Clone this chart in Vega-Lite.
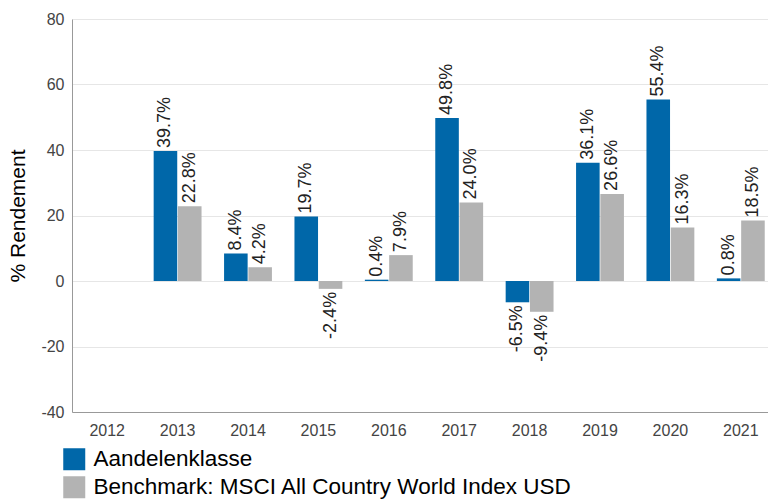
{
  "$schema": "https://vega.github.io/schema/vega-lite/v6.json",
  "autosize": "none",
  "width": 696,
  "height": 393,
  "padding": {"left": 72, "top": 19, "right": 0, "bottom": 88},
  "background": "white",
  "config": {
    "font": "Liberation Sans",
    "view": {"stroke": null}
  },
  "data": {
    "values": [
      {"jaar": "2013", "reeks": "Aandelenklasse", "waarde": 39.7},
      {"jaar": "2013", "reeks": "Benchmark: MSCI All Country World Index USD", "waarde": 22.8},
      {"jaar": "2014", "reeks": "Aandelenklasse", "waarde": 8.4},
      {"jaar": "2014", "reeks": "Benchmark: MSCI All Country World Index USD", "waarde": 4.2},
      {"jaar": "2015", "reeks": "Aandelenklasse", "waarde": 19.7},
      {"jaar": "2015", "reeks": "Benchmark: MSCI All Country World Index USD", "waarde": -2.4},
      {"jaar": "2016", "reeks": "Aandelenklasse", "waarde": 0.4},
      {"jaar": "2016", "reeks": "Benchmark: MSCI All Country World Index USD", "waarde": 7.9},
      {"jaar": "2017", "reeks": "Aandelenklasse", "waarde": 49.8},
      {"jaar": "2017", "reeks": "Benchmark: MSCI All Country World Index USD", "waarde": 24.0},
      {"jaar": "2018", "reeks": "Aandelenklasse", "waarde": -6.5},
      {"jaar": "2018", "reeks": "Benchmark: MSCI All Country World Index USD", "waarde": -9.4},
      {"jaar": "2019", "reeks": "Aandelenklasse", "waarde": 36.1},
      {"jaar": "2019", "reeks": "Benchmark: MSCI All Country World Index USD", "waarde": 26.6},
      {"jaar": "2020", "reeks": "Aandelenklasse", "waarde": 55.4},
      {"jaar": "2020", "reeks": "Benchmark: MSCI All Country World Index USD", "waarde": 16.3},
      {"jaar": "2021", "reeks": "Aandelenklasse", "waarde": 0.8},
      {"jaar": "2021", "reeks": "Benchmark: MSCI All Country World Index USD", "waarde": 18.5}
    ]
  },
  "transform": [
    {"calculate": "replace(format(datum.waarde, '.1f'), '\u2212', '-') + '%'", "as": "label"}
  ],
  "encoding": {
    "x": {
      "field": "jaar",
      "type": "nominal",
      "scale": {
        "domain": ["2012", "2013", "2014", "2015", "2016", "2017", "2018", "2019", "2020", "2021"],
        "range": [0, 704],
        "paddingInner": 0.32,
        "paddingOuter": 0.16
      },
      "axis": {
        "title": null,
        "labelAngle": 0,
        "labelFontSize": 16,
        "labelColor": "#444444",
        "labelPadding": 10,
        "ticks": false,
        "domain": true,
        "domainColor": "#999999",
        "grid": false
      }
    },
    "xOffset": {
      "field": "reeks",
      "type": "nominal",
      "scale": {"paddingInner": 0.03}
    }
  },
  "layer": [
    {
      "mark": {"type": "bar"},
      "encoding": {
        "y": {
          "field": "waarde",
          "type": "quantitative",
          "scale": {"domain": [-40, 80], "nice": false, "zero": false},
          "axis": {
            "title": "% Rendement",
            "titleFontSize": 21,
            "titleFontWeight": "normal",
            "titleColor": "#000000",
            "titlePadding": 12,
            "values": [-40, -20, 0, 20, 40, 60, 80],
            "labelExpr": "'' + datum.value",
            "labelFontSize": 16,
            "labelColor": "#444444",
            "labelPadding": 8,
            "ticks": false,
            "domainColor": "#999999",
            "gridColor": "#e6e6e6",
            "grid": true
          }
        },
        "color": {
          "field": "reeks",
          "type": "nominal",
          "scale": {
            "domain": ["Aandelenklasse", "Benchmark: MSCI All Country World Index USD"],
            "range": ["#0067a9", "#b3b3b3"]
          },
          "legend": {
            "title": null,
            "orient": "none",
            "legendX": -9,
            "legendY": 429,
            "symbolType": "square",
            "symbolSize": 484,
            "symbolStrokeWidth": 0,
            "labelFontSize": 22.5,
            "labelColor": "#000000",
            "labelOffset": 8,
            "rowPadding": 5,
            "labelLimit": 700
          }
        }
      }
    },
    {
      "transform": [{"filter": "datum.waarde >= 0"}],
      "mark": {"type": "text", "angle": 270, "align": "left", "baseline": "middle", "dx": 3, "fontSize": 18, "color": "#222222"},
      "encoding": {
        "y": {"field": "waarde", "type": "quantitative"},
        "text": {"field": "label", "type": "nominal"}
      }
    },
    {
      "transform": [{"filter": "datum.waarde < 0"}],
      "mark": {"type": "text", "angle": 270, "align": "right", "baseline": "middle", "dx": -3, "fontSize": 18, "color": "#222222"},
      "encoding": {
        "y": {"field": "waarde", "type": "quantitative"},
        "text": {"field": "label", "type": "nominal"}
      }
    }
  ]
}
